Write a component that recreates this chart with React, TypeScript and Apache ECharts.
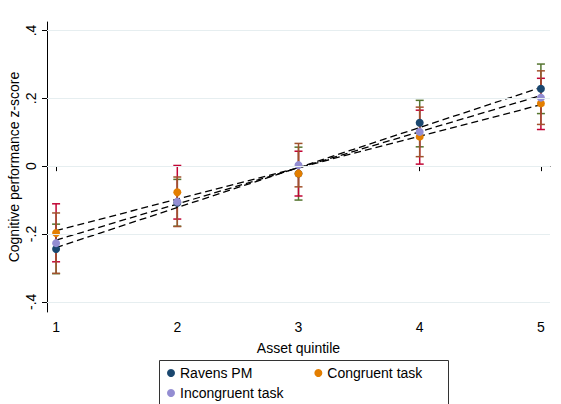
import React, { useEffect, useRef } from "react";
import * as echarts from "echarts";

const quintiles = [1, 2, 3, 4, 5];
const xTicks = [1, 2, 3, 4, 5];
const yTicks = [-0.4, -0.2, 0, 0.2, 0.4];

const seriesNames = ["Ravens PM", "Congruent task", "Incongruent task"];

const ravensMean = [-0.244, -0.108, -0.022, 0.128, 0.228];
const ravensLo = [-0.317, -0.177, -0.1, 0.057, 0.155];
const ravensHi = [-0.171, -0.039, 0.056, 0.194, 0.301];

const congruentMean = [-0.197, -0.077, -0.022, 0.087, 0.185];
const congruentLo = [-0.282, -0.156, -0.088, 0.006, 0.108];
const congruentHi = [-0.111, 0.002, 0.044, 0.165, 0.259];

const incongruentMean = [-0.227, -0.105, 0.003, 0.101, 0.202];
const incongruentLo = [-0.316, -0.178, -0.061, 0.028, 0.123];
const incongruentHi = [-0.138, -0.032, 0.067, 0.174, 0.281];

const fitX = [1, 5];
const ravensFit = [-0.24, 0.232];
const congruentFit = [-0.19, 0.181];
const incongruentFit = [-0.218, 0.208];

const markerColors = ["#1a476f", "#e37e00", "#938dd2"];
const ciColors = ["#55752f", "#c10534", "#a0522d"];

const FONT = "'Liberation Sans', Arial, Helvetica, sans-serif";

export default function App() {
  const ref = useRef<HTMLDivElement>(null);

  useEffect(() => {
    if (!ref.current) return;
    const chart = echarts.init(ref.current, null, { renderer: "svg" });

    const means = [ravensMean, congruentMean, incongruentMean];
    const los = [ravensLo, congruentLo, incongruentLo];
    const his = [ravensHi, congruentHi, incongruentHi];
    const fits = [ravensFit, congruentFit, incongruentFit];

    const ciSeries = seriesNames.map((name, i) => ({
      type: "custom",
      name: name + " CI",
      z: 2,
      silent: true,
      encode: { x: 0, y: [1, 2] },
      data: quintiles.map((q, k) => [q, los[i][k], his[i][k]]),
      renderItem: (params: any, api: any) => {
        const x = api.value(0);
        const pLo = api.coord([x, api.value(1)]);
        const pHi = api.coord([x, api.value(2)]);
        const w = 4;
        const style = { stroke: ciColors[i], lineWidth: 1.5 };
        return {
          type: "group",
          children: [
            { type: "line", shape: { x1: pLo[0], y1: pLo[1], x2: pHi[0], y2: pHi[1] }, style },
            { type: "line", shape: { x1: pLo[0] - w, y1: pLo[1], x2: pLo[0] + w, y2: pLo[1] }, style },
            { type: "line", shape: { x1: pHi[0] - w, y1: pHi[1], x2: pHi[0] + w, y2: pHi[1] }, style },
          ],
        };
      },
    }));

    const fitSeries = seriesNames.map((name, i) => ({
      type: "line",
      name: name + " fit",
      z: 3,
      silent: true,
      symbol: "none",
      data: fitX.map((x, k) => [x, fits[i][k]]),
      lineStyle: { color: "#000", width: 1.3, type: [7, 4] },
    }));

    const scatterSeries = seriesNames.map((name, i) => ({
      type: "scatter",
      name,
      z: 4,
      symbol: "circle",
      symbolSize: 8,
      data: quintiles.map((q, k) => [q, means[i][k]]),
      itemStyle: { color: markerColors[i], opacity: 1 },
    }));

    const gridSeries = {
      type: "line",
      name: "grid",
      z: 1,
      silent: true,
      data: [],
      markLine: {
        silent: true,
        symbol: "none",
        label: { show: false },
        lineStyle: { color: "#e6eef0", width: 1, type: "solid" },
        data: yTicks.map((v) => ({ yAxis: v })),
      },
    };

    const tickFmt = (v: number) => (v === 0 ? "0" : String(v).replace(/^(-?)0\./, "$1."));

    chart.setOption({
      animation: false,
      backgroundColor: "#fff",
      textStyle: { fontFamily: FONT },
      grid: { left: 47, right: 11, top: 22, bottom: 92, containLabel: false, outerBoundsMode: "none" },
      xAxis: {
        type: "value",
        min: 0.925,
        max: 5.075,
        name: "Asset quintile",
        nameLocation: "middle",
        nameGap: 29,
        nameMoveOverlap: false,
        nameTextStyle: { color: "#000", fontSize: 14, fontFamily: FONT },
        axisLine: { show: true, lineStyle: { color: "#000", width: 1 } },
        axisTick: { show: true, length: 5, customValues: xTicks, lineStyle: { color: "#000" } },
        axisLabel: { show: true, customValues: xTicks, margin: 8, color: "#000", fontSize: 14, fontFamily: FONT },
        splitLine: { show: false },
      },
      yAxis: {
        type: "value",
        min: -0.43,
        max: 0.425,
        name: "Cognitive performance z-score",
        nameLocation: "middle",
        nameGap: 26,
        nameMoveOverlap: false,
        nameTextStyle: { color: "#000", fontSize: 14, fontFamily: FONT },
        axisLine: { show: true, lineStyle: { color: "#000", width: 1 } },
        axisTick: { show: true, length: 5, customValues: yTicks, lineStyle: { color: "#000" } },
        axisLabel: {
          show: true,
          customValues: yTicks,
          rotate: 90,
          margin: 9,
          color: "#000",
          fontSize: 14,
          fontFamily: FONT,
          formatter: tickFmt,
        },
        splitLine: { show: false },
      },
      legend: [
        {
          data: [seriesNames[0], seriesNames[1]],
          orient: "horizontal",
          left: 167,
          top: 366,
          padding: 0,
          itemGap: 62,
          itemWidth: 8,
          itemHeight: 8,
          icon: "circle",
          textStyle: { color: "#000", fontSize: 14, fontFamily: FONT },
        },
        {
          data: [seriesNames[2]],
          orient: "horizontal",
          left: 167,
          top: 386,
          padding: 0,
          itemWidth: 8,
          itemHeight: 8,
          icon: "circle",
          textStyle: { color: "#000", fontSize: 14, fontFamily: FONT },
        },
      ],
      graphic: [
        {
          type: "rect",
          left: 159,
          top: 360,
          z: -1,
          silent: true,
          shape: { width: 289, height: 60 },
          style: { fill: "#fff", stroke: "#333", lineWidth: 1 },
        },
      ],
      series: [gridSeries, ...ciSeries, ...fitSeries, ...scatterSeries],
    });

    return () => chart.dispose();
  }, []);

  return (
    <div
      ref={ref}
      style={{ position: "fixed", left: 0, top: 0, width: 561, height: 404, background: "#fff" }}
    />
  );
}
